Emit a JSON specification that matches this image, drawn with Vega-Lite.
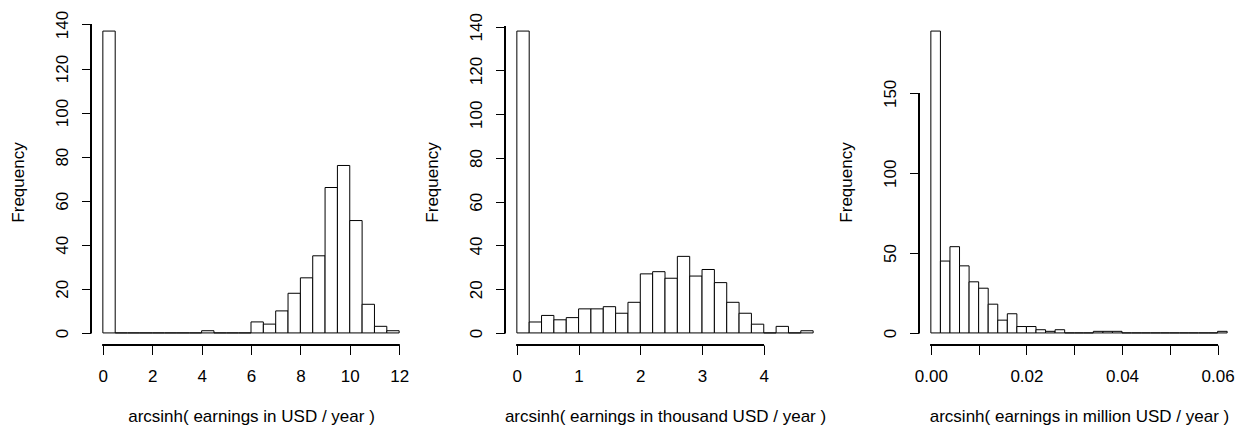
{
  "$schema": "https://vega.github.io/schema/vega-lite/v6.json",
  "background": "white",
  "padding": {"left": 9, "top": 10, "right": 0, "bottom": 0},
  "spacing": 94,
  "bounds": "flush",
  "config": {
    "view": {"stroke": null},
    "font": "Liberation Sans",
    "axis": {
      "domain": false, "grid": false, "tickColor": "black", "tickSize": 9.5, "tickWidth": 1,
      "labelFont": "Liberation Sans", "labelFontSize": 17, "labelColor": "black",
      "titleFont": "Liberation Sans", "titleFontSize": 17, "titleFontWeight": "normal", "titleColor": "black"
    },
    "axisX": {"labelBaseline": "alphabetic", "labelPadding": 27, "titleBaseline": "alphabetic", "titlePadding": 37, "labelFlush": false, "labelOverlap": false},
    "axisY": {"labelAngle": 270, "labelAlign": "center", "labelBaseline": "alphabetic", "labelPadding": 14, "titleBaseline": "alphabetic", "titlePadding": 30, "labelOverlap": false}
  },
  "datasets": {
    "usd": [
      {"start": 0, "end": 0.5, "count": 137}, {"start": 0.5, "end": 1, "count": 0},
      {"start": 1, "end": 1.5, "count": 0}, {"start": 1.5, "end": 2, "count": 0},
      {"start": 2, "end": 2.5, "count": 0}, {"start": 2.5, "end": 3, "count": 0},
      {"start": 3, "end": 3.5, "count": 0}, {"start": 3.5, "end": 4, "count": 0},
      {"start": 4, "end": 4.5, "count": 1}, {"start": 4.5, "end": 5, "count": 0},
      {"start": 5, "end": 5.5, "count": 0}, {"start": 5.5, "end": 6, "count": 0},
      {"start": 6, "end": 6.5, "count": 5}, {"start": 6.5, "end": 7, "count": 4},
      {"start": 7, "end": 7.5, "count": 10}, {"start": 7.5, "end": 8, "count": 18},
      {"start": 8, "end": 8.5, "count": 25}, {"start": 8.5, "end": 9, "count": 35},
      {"start": 9, "end": 9.5, "count": 66}, {"start": 9.5, "end": 10, "count": 76},
      {"start": 10, "end": 10.5, "count": 51}, {"start": 10.5, "end": 11, "count": 13},
      {"start": 11, "end": 11.5, "count": 3}, {"start": 11.5, "end": 12, "count": 1}
    ],
    "thousand": [
      {"start": 0, "end": 0.2, "count": 138}, {"start": 0.2, "end": 0.4, "count": 5},
      {"start": 0.4, "end": 0.6, "count": 8}, {"start": 0.6, "end": 0.8, "count": 6},
      {"start": 0.8, "end": 1.0, "count": 7}, {"start": 1.0, "end": 1.2, "count": 11},
      {"start": 1.2, "end": 1.4, "count": 11}, {"start": 1.4, "end": 1.6, "count": 12},
      {"start": 1.6, "end": 1.8, "count": 9}, {"start": 1.8, "end": 2.0, "count": 14},
      {"start": 2.0, "end": 2.2, "count": 27}, {"start": 2.2, "end": 2.4, "count": 28},
      {"start": 2.4, "end": 2.6, "count": 25}, {"start": 2.6, "end": 2.8, "count": 35},
      {"start": 2.8, "end": 3.0, "count": 26}, {"start": 3.0, "end": 3.2, "count": 29},
      {"start": 3.2, "end": 3.4, "count": 23}, {"start": 3.4, "end": 3.6, "count": 14},
      {"start": 3.6, "end": 3.8, "count": 9}, {"start": 3.8, "end": 4.0, "count": 4},
      {"start": 4.0, "end": 4.2, "count": 0}, {"start": 4.2, "end": 4.4, "count": 3},
      {"start": 4.4, "end": 4.6, "count": 0}, {"start": 4.6, "end": 4.8, "count": 1}
    ],
    "million": [
      {"start": 0.000, "end": 0.002, "count": 189}, {"start": 0.002, "end": 0.004, "count": 45},
      {"start": 0.004, "end": 0.006, "count": 54}, {"start": 0.006, "end": 0.008, "count": 42},
      {"start": 0.008, "end": 0.010, "count": 32}, {"start": 0.010, "end": 0.012, "count": 28},
      {"start": 0.012, "end": 0.014, "count": 18}, {"start": 0.014, "end": 0.016, "count": 8},
      {"start": 0.016, "end": 0.018, "count": 12}, {"start": 0.018, "end": 0.020, "count": 4},
      {"start": 0.020, "end": 0.022, "count": 4}, {"start": 0.022, "end": 0.024, "count": 2},
      {"start": 0.024, "end": 0.026, "count": 1}, {"start": 0.026, "end": 0.028, "count": 2},
      {"start": 0.028, "end": 0.030, "count": 0}, {"start": 0.030, "end": 0.032, "count": 0},
      {"start": 0.032, "end": 0.034, "count": 0}, {"start": 0.034, "end": 0.036, "count": 1},
      {"start": 0.036, "end": 0.038, "count": 1}, {"start": 0.038, "end": 0.040, "count": 1},
      {"start": 0.040, "end": 0.042, "count": 0}, {"start": 0.042, "end": 0.044, "count": 0},
      {"start": 0.044, "end": 0.046, "count": 0}, {"start": 0.046, "end": 0.048, "count": 0},
      {"start": 0.048, "end": 0.050, "count": 0}, {"start": 0.050, "end": 0.052, "count": 0},
      {"start": 0.052, "end": 0.054, "count": 0}, {"start": 0.054, "end": 0.056, "count": 0},
      {"start": 0.056, "end": 0.058, "count": 0}, {"start": 0.058, "end": 0.060, "count": 0},
      {"start": 0.060, "end": 0.062, "count": 1}
    ]
  },
  "hconcat": [
    {
      "width": 320, "height": 326,
      "data": {"name": "usd"},
      "layer": [
        {
          "mark": {"type": "rect", "fill": "white", "stroke": "black", "strokeWidth": 1},
          "encoding": {
            "x": {"field": "start", "type": "quantitative",
                  "scale": {"domain": [-0.48, 12.48], "nice": false, "zero": false},
                  "axis": {"values": [0, 2, 4, 6, 8, 10, 12], "format": "d", "title": "arcsinh( earnings in USD / year )"}},
            "x2": {"field": "end"},
            "y": {"field": "count", "type": "quantitative",
                  "scale": {"domain": [-5.48, 142.48], "nice": false, "zero": false},
                  "axis": {"values": [0, 20, 40, 60, 80, 100, 120, 140], "format": "d", "title": "Frequency"}},
            "y2": {"datum": 0}
          }
        },
        {"mark": {"type": "rule", "color": "black", "strokeWidth": 1},
         "encoding": {"x": {"datum": 0}, "x2": {"datum": 12}, "y": {"datum": -5.48}}},
        {"mark": {"type": "rule", "color": "black", "strokeWidth": 1},
         "encoding": {"x": {"datum": -0.48}, "y": {"datum": 0}, "y2": {"datum": 140}}}
      ]
    },
    {
      "width": 320, "height": 326,
      "data": {"name": "thousand"},
      "layer": [
        {
          "mark": {"type": "rect", "fill": "white", "stroke": "black", "strokeWidth": 1},
          "encoding": {
            "x": {"field": "start", "type": "quantitative",
                  "scale": {"domain": [-0.192, 4.992], "nice": false, "zero": false},
                  "axis": {"values": [0, 1, 2, 3, 4], "format": "d", "title": "arcsinh( earnings in thousand USD / year )"}},
            "x2": {"field": "end"},
            "y": {"field": "count", "type": "quantitative",
                  "scale": {"domain": [-5.52, 143.52], "nice": false, "zero": false},
                  "axis": {"values": [0, 20, 40, 60, 80, 100, 120, 140], "format": "d", "title": "Frequency"}},
            "y2": {"datum": 0}
          }
        },
        {"mark": {"type": "rule", "color": "black", "strokeWidth": 1},
         "encoding": {"x": {"datum": 0}, "x2": {"datum": 4}, "y": {"datum": -5.52}}},
        {"mark": {"type": "rule", "color": "black", "strokeWidth": 1},
         "encoding": {"x": {"datum": -0.192}, "y": {"datum": 0}, "y2": {"datum": 140}}}
      ]
    },
    {
      "width": 320, "height": 326,
      "data": {"name": "million"},
      "layer": [
        {
          "mark": {"type": "rect", "fill": "white", "stroke": "black", "strokeWidth": 1},
          "encoding": {
            "x": {"field": "start", "type": "quantitative",
                  "scale": {"domain": [-0.00248, 0.06448], "nice": false, "zero": false},
                  "axis": {"values": [0, 0.01, 0.02, 0.03, 0.04, 0.05, 0.06],
                           "labelExpr": "round(datum.value * 100) % 2 == 0 ? format(datum.value, '.2f') : ''",
                           "title": "arcsinh( earnings in million USD / year )"}},
            "x2": {"field": "end"},
            "y": {"field": "count", "type": "quantitative",
                  "scale": {"domain": [-7.56, 196.56], "nice": false, "zero": false},
                  "axis": {"values": [0, 50, 100, 150], "format": "d", "title": "Frequency"}},
            "y2": {"datum": 0}
          }
        },
        {"mark": {"type": "rule", "color": "black", "strokeWidth": 1},
         "encoding": {"x": {"datum": 0}, "x2": {"datum": 0.06}, "y": {"datum": -7.56}}},
        {"mark": {"type": "rule", "color": "black", "strokeWidth": 1},
         "encoding": {"x": {"datum": -0.00248}, "y": {"datum": 0}, "y2": {"datum": 150}}}
      ]
    }
  ]
}
